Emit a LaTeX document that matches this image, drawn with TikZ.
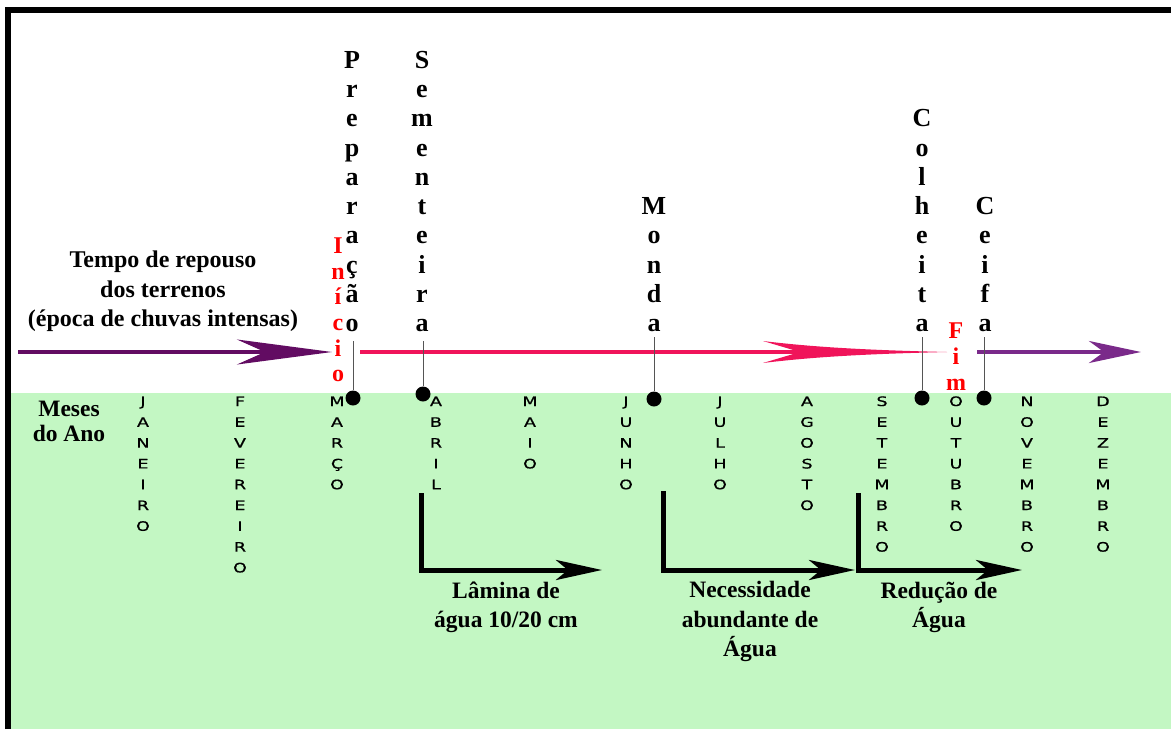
\documentclass[tikz,border=0pt]{standalone}
\usepackage{fontspec}
\setmainfont{Liberation Serif}
\newfontfamily\monthfont[FakeStretch=1.35,FakeBold=0.8]{DejaVu Sans}
\usetikzlibrary{arrows.meta}
\definecolor{bggreen}{RGB}{195,247,195}
\definecolor{purpleA}{RGB}{98,12,98}
\definecolor{pinkB}{RGB}{240,20,90}
\definecolor{purpleC}{RGB}{122,42,138}
\definecolor{redtxt}{RGB}{255,0,0}
\definecolor{stemgray}{RGB}{85,85,85}
\tikzset{
  stage/.style={font=\bfseries\fontsize{26}{29.3}\selectfont, align=center, inner sep=0pt, anchor=south, text depth=0pt},
  redstack/.style={font=\bfseries\fontsize{24}{25.7}\selectfont, text=redtxt, align=center, inner sep=0pt, anchor=south, text depth=0pt},
  month/.style={font=\monthfont\fontsize{13}{20.8}\selectfont, align=center, inner sep=0pt, anchor=south, text depth=0pt},
  label/.style={font=\bfseries\fontsize{23.5}{29.5}\selectfont, align=center, inner sep=0pt, anchor=south, text depth=0pt},
  dot/.style={circle, fill=black, inner sep=0pt, minimum size=15pt},
  stem/.style={draw=stemgray, line width=1pt},
  lshape/.style={line width=5pt, line join=miter, -{Stealth[length=46pt,width=20pt,inset=12pt]}},
}
\begin{document}
\begin{tikzpicture}[x=1pt,y=-1pt]
\useasboundingbox (0,0) rectangle (1171,729);
% background
\fill[bggreen] (11,393) rectangle (1171,729);
\draw[line width=6pt, line join=miter] (8,729) -- (8,10) -- (1171,10);

% left texts
\node[font=\bfseries\fontsize{24}{29.5}\selectfont, align=center, inner sep=0pt, anchor=south, text depth=0pt] (repouso) at (163,327)
  {Tempo de repouso\\dos terrenos\\(época de chuvas intensas)};
\node[font=\bfseries\fontsize{23.5}{25}\selectfont, align=center, inner sep=0pt, anchor=south, text depth=0pt] (meses) at (69,442)
  {Meses\\do Ano};

% horizontal timeline arrows
\coordinate (a1s) at (18,352);
\coordinate (a1e) at (332,352);
\coordinate (a2s) at (360,352);
\coordinate (a2m) at (800,352);
\coordinate (a2e) at (947,352);
\coordinate (a3s) at (977,352);
\coordinate (a3e) at (1141,352);
\draw[purpleA, line width=4pt, -{Stealth[length=95pt,width=25pt,inset=28pt]}] (a1s) -- (a1e);
\draw[pinkB, line width=4.5pt] (a2s) -- (a2m);
\fill[pinkB] (a2e) .. controls (880,350.4) and (820,348) .. (763,341)
  -- (a2m) -- (763,363) .. controls (820,356) and (880,353.6) .. (a2e) -- cycle;
\draw[purpleC, line width=4pt, -{Stealth[length=52pt,width=22pt,inset=15pt]}] (a3s) -- (a3e);

% stage labels
\node[stage] (prep) at (352,332) {P\\r\\e\\p\\a\\r\\a\\ç\\ã\\o};
\node[stage] (sem) at (422,332) {S\\e\\m\\e\\n\\t\\e\\i\\r\\a};
\node[stage] (monda) at (654,332) {M\\o\\n\\d\\a};
\node[stage] (colh) at (922,332) {C\\o\\l\\h\\e\\i\\t\\a};
\node[stage] (ceifa) at (985,332) {C\\e\\i\\f\\a};
\node[redstack] (inicio) at (338,382) {I\\n\\í\\c\\i\\o};
\node[redstack, font=\bfseries\fontsize{24}{26}\selectfont] (fim) at (956,391) {F\\i\\m};

% dots and stems
\node[dot] (dPrep) at (353,398) {};
\node[dot] (dSem) at (423,394) {};
\node[dot] (dMonda) at (654,399) {};
\node[dot] (dColh) at (922,398) {};
\node[dot] (dCeifa) at (984,398) {};
\coordinate (sPrep) at (353,341);
\coordinate (sSem) at (423,341);
\coordinate (sMonda) at (654,337);
\coordinate (sColh) at (922,337);
\coordinate (sCeifa) at (984,337);
\draw[stem] (sPrep) -- (dPrep);
\draw[stem] (sSem) -- (dSem);
\draw[stem] (sMonda) -- (dMonda);
\draw[stem] (sColh) -- (dColh);
\draw[stem] (sCeifa) -- (dCeifa);

% months
\node[month] (jan) at (143,531) {J\\A\\N\\E\\I\\R\\O};
\node[month] (fev) at (240,572.6) {F\\E\\V\\E\\R\\E\\I\\R\\O};
\node[month] (mar) at (337,489.4) {M\\A\\R\\Ç\\O};
\node[month] (abr) at (436,489.4) {A\\B\\R\\I\\L};
\node[month] (mai) at (530,468.6) {M\\A\\I\\O};
\node[month] (jun) at (626,489.4) {J\\U\\N\\H\\O};
\node[month] (jul) at (720,489.4) {J\\U\\L\\H\\O};
\node[month] (ago) at (807,510.2) {A\\G\\O\\S\\T\\O};
\node[month] (set) at (882,551.8) {S\\E\\T\\E\\M\\B\\R\\O};
\node[month] (out) at (956,531) {O\\U\\T\\U\\B\\R\\O};
\node[month] (nov) at (1027,551.8) {N\\O\\V\\E\\M\\B\\R\\O};
\node[month] (dez) at (1103,551.8) {D\\E\\Z\\E\\M\\B\\R\\O};

% L-shaped water arrows
\coordinate (l1t) at (421,493);
\coordinate (l1c) at (421,570);
\coordinate (l1e) at (602,570);
\coordinate (l2t) at (663,491);
\coordinate (l2c) at (663,570);
\coordinate (l2e) at (855,570);
\coordinate (l3t) at (858,493);
\coordinate (l3c) at (858,570);
\coordinate (l3e) at (1022,570);
\draw[lshape] (l1t) -- (l1c) -- (l1e);
\draw[lshape] (l2t) -- (l2c) -- (l2e);
\draw[lshape] (l3t) -- (l3c) -- (l3e);

\node[label] (lamina) at (506,628) {Lâmina de\\água 10/20 cm};
\node[label] (necess) at (750,657) {Necessidade\\abundante de\\Água};
\node[label] (reduc) at (939,628) {Redução de\\Água};
\end{tikzpicture}
\end{document}
